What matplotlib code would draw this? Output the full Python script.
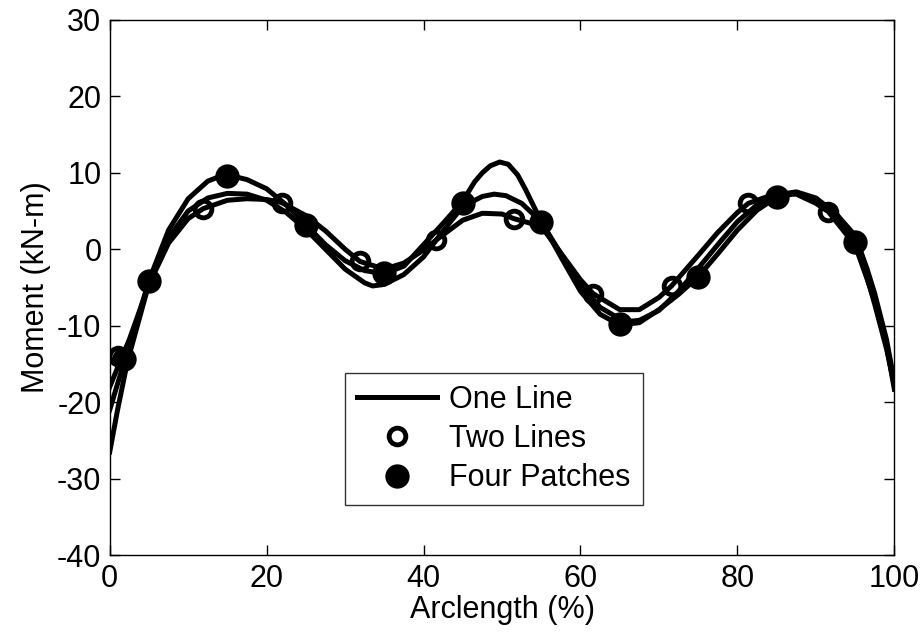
import numpy as np
import matplotlib
matplotlib.use('Agg')
import matplotlib.pyplot as plt

plt.rcParams['font.family'] = ['Liberation Sans', 'DejaVu Sans']
plt.rcParams['axes.unicode_minus'] = False

# curves (arclength %, moment kN-m)
one_x = [0, 1, 2, 2.5, 5, 7.5, 10, 12.5, 15, 17.5, 20, 22.5, 25, 27.5, 30, 32.5, 33.5, 35,
         37.5, 40, 42.5, 45, 47.5, 49, 50.5, 52.5, 55, 57.5, 60, 62.5, 65, 66.5, 67.5, 70,
         72.5, 75, 77.5, 80, 82.5, 85, 87.5, 90, 92.5, 95, 96.5, 97.5, 99, 100]
one_y = [-26.5, -21, -16, -13.8, -4.5, 1.5, 5.0, 6.7, 7.3, 7.2, 6.4, 4.8, 2.6, 0.0, -2.6, -4.4, -4.8, -4.6,
         -3.3, -1.0, 2.4, 5.6, 6.9, 7.2, 7.0, 6.0, 3.6, -0.6, -4.6, -7.6, -9.1, -9.4, -9.3, -8.0,
         -5.5, -2.5, 0.6, 3.6, 5.8, 7.1, 7.5, 6.7, 4.7, 1.8, -2.5, -5.8, -11.8, -17.3]

two_x = [0, 1, 1.6, 2.5, 5, 7.5, 10, 11.9, 15, 17.5, 20, 21.9, 25, 27.5, 30, 31.9, 35, 37.5,
         40, 41.6, 45, 47.5, 50, 51.5, 55, 57.5, 60, 61.6, 65, 67.5, 70, 71.6, 75, 77.5, 80,
         81.4, 85, 87.5, 90, 91.6, 95, 96.5, 97.5, 99, 100]
two_y = [-18, -15.5, -14, -11.8, -4.6, 0.8, 4.0, 5.3, 6.4, 6.6, 6.5, 6.1, 4.4, 2.4, 0.0, -1.6, -2.6, -1.8,
         -0.1, 1.2, 3.8, 4.7, 4.6, 4.0, 3.0, -0.5, -4.0, -5.8, -7.9, -7.9, -6.3, -4.8, -0.8, 2.2, 4.8,
         6.0, 7.3, 7.2, 6.0, 4.9, 0.5, -3.8, -6.8, -12.5, -18.3]

four_x = [0, 1, 2, 2.5, 5, 7.5, 10, 12.5, 14, 15.5, 17.5, 20, 22.5, 25, 27.5, 30, 32.5, 35, 37.5, 40,
          42.5, 45, 46.5, 47.5, 48.5, 49.7, 50.8, 52, 53, 55, 57.5, 60, 62.5, 65, 67.5, 70, 72.5, 75, 77.5,
          80, 82.5, 85, 87.5, 90, 92.5, 95, 96.5, 97.5, 99, 100]
four_y = [-21, -17.6, -14.3, -12.7, -4.1, 2.5, 6.6, 8.9, 9.5, 9.6, 9.1, 7.9, 5.8, 3.2, 0.6, -1.5, -2.8, -3.2, -2.2, 0.6,
          3.4, 6.3, 8.8, 10.0, 10.9, 11.4, 11.1, 9.7, 7.8, 3.6, -1.0, -5.5, -8.5, -9.9, -9.6, -7.9, -5.9, -3.6, -0.6,
          2.5, 5.1, 6.8, 7.3, 6.5, 4.8, 1.0, -3.6, -7.2, -13, -17.8]

# marker points
two_mx = [1.0, 11.9, 21.9, 31.9, 41.6, 51.5, 61.6, 71.6, 81.4, 91.6]
two_my = [-14.0, 5.3, 6.1, -1.6, 1.2, 4.0, -5.9, -4.8, 6.1, 4.9]
four_mx = [1.8, 5, 15, 25, 35, 45, 55, 65, 75, 85, 95]
four_my = [-14.3, -4.1, 9.6, 3.2, -3.1, 6.1, 3.5, -9.8, -3.6, 6.8, 1.0]

fig = plt.figure(figsize=(9.22, 6.36), dpi=100)
ax = fig.add_axes([0.119, 0.127, 0.851, 0.842])

lw = 3.6
ln1, = ax.plot(one_x, one_y, 'k-', lw=lw, label='One Line')
ax.plot(two_x, two_y, 'k-', lw=lw)
ax.plot(four_x, four_y, 'k-', lw=lw)
m2, = ax.plot(two_mx, two_my, 'ko', ms=12, mew=3.5, mfc='none', ls='none', label='Two Lines')
m4, = ax.plot(four_mx, four_my, 'ko', ms=16, mew=1.5, mfc='k', ls='none', label='Four Patches')

ax.set_xlim(0, 100)
ax.set_ylim(-40, 30)
ax.set_xticks([0, 20, 40, 60, 80, 100])
ax.set_yticks([-40, -30, -20, -10, 0, 10, 20, 30])
ax.tick_params(direction='in', top=True, right=True, length=7, width=1, labelsize=22, pad=6)
for s in ax.spines.values():
    s.set_linewidth(1)
ax.set_xlabel('Arclength (%)', fontsize=22, labelpad=1)
ax.set_ylabel('Moment (kN-m)', fontsize=22, labelpad=4)

leg = ax.legend(handles=[ln1, m2, m4], loc='lower left', bbox_to_anchor=(0.30, 0.093),
                fontsize=22, frameon=True, fancybox=False, edgecolor='k',
                handlelength=2.6, labelspacing=0.3, borderpad=0.4, handletextpad=0.4,
                borderaxespad=0)
leg.get_frame().set_linewidth(1)

fig.savefig('out.png', dpi=100)
